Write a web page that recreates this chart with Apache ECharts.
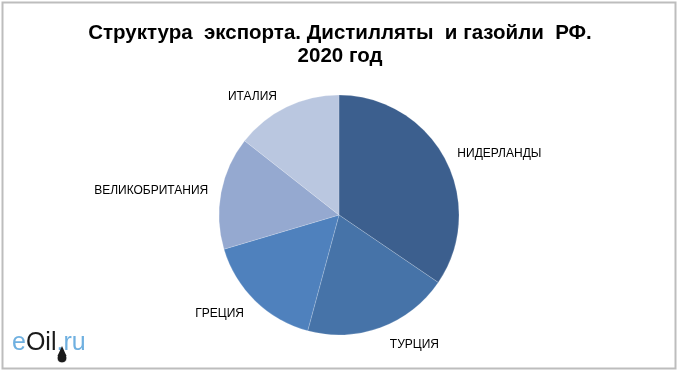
<!DOCTYPE html>
<html><head><meta charset="utf-8">
<script src="https://cdn.jsdelivr.net/npm/echarts@6/dist/echarts.min.js"></script>
<style>html,body{margin:0;padding:0;background:#fff}#c{width:680px;height:375px}</style>
</head><body><div id="c"></div>
<script>
const categories = ['НИДЕРЛАНДЫ', 'ТУРЦИЯ', 'ГРЕЦИЯ', 'ВЕЛИКОБРИТАНИЯ', 'ИТАЛИЯ'];
const shares = [34.5, 19.7, 16.2, 15.2, 14.4];
const colors = ['#3c5f8e', '#4673a8', '#4f81bd', '#95a9d0', '#bac7e0'];
const titleText = 'Структура  экспорта. Дистилляты  и газойли  РФ.\n2020 год';

const CX = 339, CY = 215;
const chart = echarts.init(document.getElementById('c'), null, {renderer: 'canvas'});
chart.setOption({
  animation: false,
  backgroundColor: '#fff',
  title: {
    text: titleText, left: 'center', top: 17,
    textStyle: {fontFamily: 'Liberation Sans', fontWeight: 'bold', fontSize: 20.5, color: '#000', lineHeight: 23}
  },
  graphic: [
    {type: 'rect', shape: {x: 2.5, y: 2.5, width: 673, height: 366}, style: {fill: 'none', stroke: '#bdbdbd', lineWidth: 2}, z: 10},
    {type: 'text', x: 12, y: 331, style: {
      text: '{a|e}{b|Oil}{a|.ru}',
      rich: {
        a: {fontFamily: 'Liberation Sans', fontSize: 25, fill: '#6fb0e0', color: '#6fb0e0'},
        b: {fontFamily: 'Liberation Sans', fontSize: 25, fill: '#1a1a1a', color: '#1a1a1a'}
      }
    }, z: 10},
    {type: 'circle', shape: {cx: 62, cy: 358, r: 5}, style: {fill: '#1a1a1a', stroke: '#fff', lineWidth: 1}, z: 11},
    {type: 'polygon', shape: {points: [[62, 346], [66.5, 356], [57.5, 356]]}, style: {fill: '#1a1a1a'}, z: 11}
  ],
  series: [{
    type: 'pie',
    center: [CX, CY],
    radius: 120,
    startAngle: 90,
    clockwise: true,
    itemStyle: {borderColor: 'rgba(255,255,255,0.35)', borderWidth: 0.5},
    label: {show: true, position: 'outside', fontFamily: 'Liberation Sans', fontSize: 12, color: '#000', formatter: '{b}'},
    labelLine: {show: false, length: 6, length2: 2},
    labelLayout: function (p) {
      const r = p.labelRect;
      const dx = r.x + r.width / 2 - CX, dy = r.y + r.height / 2 - CY;
      const vy = dy / Math.sqrt(dx * dx + dy * dy);
      return {dy: vy > 0 ? vy * 14 : vy * 6};
    },
    emphasis: {disabled: true},
    data: categories.map((c, i) => ({name: c, value: shares[i], itemStyle: {color: colors[i]}}))
  }]
});
</script></body></html>
